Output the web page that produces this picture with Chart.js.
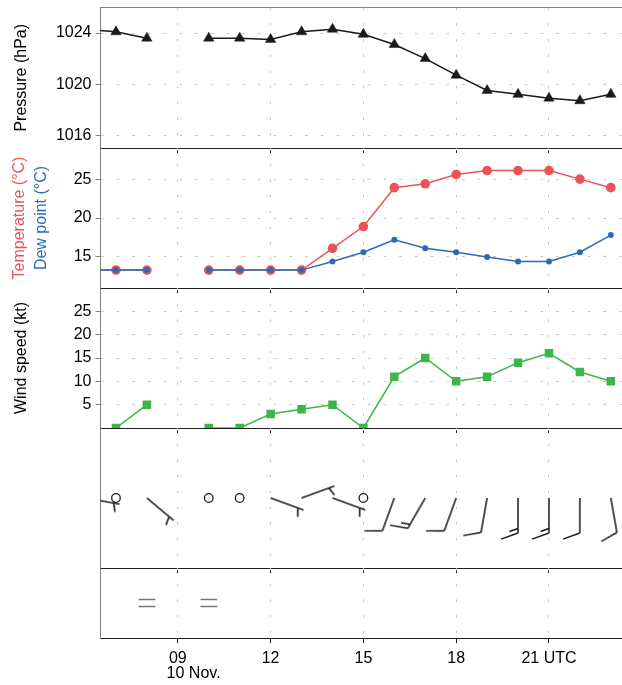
<!DOCTYPE html>
<html><head><meta charset="utf-8">
<script src="https://cdn.jsdelivr.net/npm/chart.js@4.4.1/dist/chart.umd.min.js"></script>
<style>
html,body{margin:0;padding:0;background:#fff;overflow:hidden;width:622px;height:685px;}
#wrap{position:relative;width:622px;height:685px;overflow:hidden;background:#fff;}
canvas{position:absolute;left:0;}
</style></head><body>
<div id="wrap">
<canvas id="cP" width="627" height="154" style="top:0px"></canvas>
<canvas id="cT" width="627" height="154" style="top:140px"></canvas>
<canvas id="cW" width="627" height="154" style="top:280px"></canvas>
<canvas id="cB" width="627" height="154" style="top:420px"></canvas>
<canvas id="cS" width="627" height="125" style="top:560px"></canvas>
</div>
<script>
// ---------------- data ----------------
const hours = [6,7,8,9,10,11,12,13,14,15,16,17,18,19,20,21,22,23];
const pressureHpa = [1024.3,1024.1,1023.6,null,1023.6,1023.6,1023.5,1024.1,1024.3,1023.9,1023.1,1022.0,1020.7,1019.5,1019.2,1018.9,1018.7,1019.2];
const temperatureC = [13.3,13.3,13.3,null,13.3,13.3,13.3,13.3,16.1,18.9,23.9,24.4,25.6,26.1,26.1,26.1,25.0,23.9];
const dewPointC = [13.3,13.3,13.3,null,13.3,13.3,13.3,13.3,14.4,15.6,17.2,16.1,15.6,15.0,14.4,14.4,15.6,17.8];
const windSpeedKt = [null,0,5,null,0,0,3,4,5,0,11,15,10,11,14,16,12,10];
const barbSpeedKt = [5,0,5,null,0,0,5,5,5,0,10,15,10,10,15,15,10,10];
const windDirDeg = [100,null,130,null,null,null,110,70,110,null,200,210,200,190,180,180,180,170];
const weatherSymbol = [null,null,'=',null,'=',null,null,null,null,null,null,null,null,null,null,null,null,null];
const xTickHours = [9,12,15,18,21];
const xTickLabels = ['09','12','15','18','21 UTC'];
const dateTickHour = 9;
const dateLabel = '10 Nov.';
const pressureTicks = [1016,1020,1024];
const tempTicks = [15,20,25];
const windTicks = [5,10,15,20,25];

// ---------------- style ----------------
const FONT = "'Liberation Sans', Arial, Helvetica, sans-serif";
const GRID_COLOR = '#c4c4c4';
const GRID_DASH = [2.5, 13.2];
const AXIS_COLOR = '#808080';
const SEP_COLOR = '#1f1f1f';
const TEMP_COLOR = '#EA5459';
const DEW_COLOR = '#2B6BB6';
const WIND_COLOR = '#3CB54A';
const INK = '#1a1a1a';
const X_MIN = 6.5, X_MAX = 23.5;
const Y_AXIS_W = 100.5;
const RIGHT_PAD = 0.7;

function noPad(s) { s.paddingTop = 0; s.paddingBottom = 0; s.paddingLeft = 0; s.paddingRight = 0; }

function xScale(o) {
  o = o || {};
  return {
    type: 'linear', position: 'bottom', min: X_MIN, max: X_MAX,
    afterBuildTicks: s => { s.ticks = xTickHours.map(v => ({ value: v })); },
    afterFit: s => { s.height = o.height || 6; noPad(s); },
    grid: { display: true, drawOnChartArea: true, drawTicks: true, tickLength: 5,
            color: GRID_COLOR, lineWidth: 1, tickColor: SEP_COLOR, tickWidth: 1 },
    border: { display: true, color: SEP_COLOR, width: 1, dash: GRID_DASH },
    ticks: { display: !!o.labels, autoSkip: false, maxRotation: 0, minRotation: 0,
             padding: 5.7, color: '#000', font: { family: FONT, size: 16, lineHeight: 1.2 },
             callback: (v, i) => xTickLabels[i] }
  };
}
function yScale(o) {
  const hasTicks = !!o.ticks;
  return {
    type: 'linear', position: 'left', min: o.min, max: o.max, weight: o.weight || 0,
    afterBuildTicks: s => { s.ticks = (o.ticks || []).map(v => ({ value: v })); },
    afterFit: s => { s.width = o.width; noPad(s); },
    grid: { display: hasTicks, drawOnChartArea: true, drawTicks: true, tickLength: 5,
            color: GRID_COLOR, lineWidth: 1, tickColor: AXIS_COLOR, tickWidth: 1 },
    border: { display: o.border !== false, color: AXIS_COLOR, width: 1, dash: GRID_DASH },
    ticks: { display: hasTicks, padding: 4, color: '#000', font: { family: FONT, size: 16 },
             callback: v => String(v) },
    title: o.title ? { display: true, text: o.title, color: o.titleColor || '#000',
             font: { family: FONT, size: 16, lineHeight: 1.2 },
             padding: { top: o.titlePad, bottom: 0 } } : { display: false }
  };
}
function baseOptions(scales, padTop) {
  return {
    responsive: false, animation: false, devicePixelRatio: 1, events: [],
    layout: { autoPadding: false, padding: { top: padTop, right: RIGHT_PAD, bottom: 0, left: 0 } },
    plugins: { legend: { display: false }, tooltip: { enabled: false } },
    scales
  };
}
const pts = arr => hours.map((h, i) => ({ x: h, y: arr[i] }));

// ---------------- symbol images (pointStyles) ----------------
const BARB_LEN = 35, FULL_LEN = 18, HALF_LEN = 9, FEATHER_GAP = 4.5, FEATHER_ANGLE = 70, LONE_HALF_OFFSET = 6;
const barbCache = {};
function barbImage(speed) {
  if (barbCache[speed]) return barbCache[speed];
  const size = 2 * (BARB_LEN + FULL_LEN) + 4;
  const c = document.createElement('canvas');
  c.width = c.height = size;
  const g = c.getContext('2d');
  const cx = size / 2, cy = size / 2;
  g.strokeStyle = INK; g.lineWidth = 1.5; g.lineCap = 'butt';
  g.beginPath();
  g.moveTo(cx, cy); g.lineTo(cx, cy - BARB_LEN);
  const a = FEATHER_ANGLE * Math.PI / 180;
  const fx = Math.sin(a), fy = -Math.cos(a);
  const full = Math.floor(speed / 10);
  const half = (speed % 10) >= 5 ? 1 : 0;
  let pos = (full === 0 && half) ? LONE_HALF_OFFSET : 0;
  for (let i = 0; i < full; i++) {
    const y = cy - BARB_LEN + pos;
    g.moveTo(cx, y); g.lineTo(cx + fx * FULL_LEN, y + fy * FULL_LEN);
    pos += FEATHER_GAP;
  }
  if (half) {
    const y = cy - BARB_LEN + pos;
    g.moveTo(cx, y); g.lineTo(cx + fx * HALF_LEN, y + fy * HALF_LEN);
  }
  g.stroke();
  barbCache[speed] = c;
  return c;
}
function mistImage() {
  const c = document.createElement('canvas');
  c.width = 18; c.height = 10;
  const g = c.getContext('2d');
  g.strokeStyle = '#777'; g.lineWidth = 1.4;
  g.beginPath();
  g.moveTo(0.6, 1.5); g.lineTo(17.4, 1.5);
  g.moveTo(0.6, 8.5); g.lineTo(17.4, 8.5);
  g.stroke();
  return c;
}
const MIST = mistImage();

// ---------------- charts ----------------
new Chart(document.getElementById('cP'), {
  type: 'line',
  data: { datasets: [{
    label: 'Pressure (hPa)', data: pts(pressureHpa),
    borderColor: INK, borderWidth: 1.5,
    pointStyle: 'triangle', pointRadius: 6, pointBackgroundColor: INK,
    pointBorderColor: INK, pointBorderWidth: 0.5
  }] },
  options: baseOptions({
    x: xScale(),
    xTop: { type: 'linear', position: 'top', min: X_MIN, max: X_MAX,
            afterFit: s => { s.height = 0; noPad(s); },
            grid: { display: false, drawTicks: false }, ticks: { display: false },
            border: { display: true, color: AXIS_COLOR, width: 1 } },
    y: yScale({ min: 1015, max: 1026, ticks: pressureTicks, width: Y_AXIS_W,
                title: 'Pressure (hPa)', titlePad: 12.1 })
  }, 7.5)
});

new Chart(document.getElementById('cT'), {
  type: 'line',
  data: { datasets: [
    { label: 'Dew point (°C)', data: pts(dewPointC), order: 0,
      borderColor: DEW_COLOR, borderWidth: 1.5, pointRadius: 3,
      pointBackgroundColor: DEW_COLOR, pointBorderColor: DEW_COLOR, pointBorderWidth: 0 },
    { label: 'Temperature (°C)', data: pts(temperatureC), order: 1,
      borderColor: TEMP_COLOR, borderWidth: 1.5, pointRadius: 4.8,
      pointBackgroundColor: TEMP_COLOR, pointBorderColor: TEMP_COLOR, pointBorderWidth: 0 }
  ] },
  options: baseOptions({
    x: xScale(),
    yT: yScale({ min: 11, max: 29, ticks: null, width: 31, weight: 10, border: false,
                 title: 'Temperature (°C)', titleColor: TEMP_COLOR, titlePad: 10.4 }),
    y: yScale({ min: 11, max: 29, ticks: tempTicks, width: Y_AXIS_W - 31,
                title: 'Dew point (°C)', titleColor: DEW_COLOR, titlePad: 1.1 })
  }, 8)
});

new Chart(document.getElementById('cW'), {
  type: 'line',
  data: { datasets: [{
    label: 'Wind speed (kt)', data: pts(windSpeedKt),
    borderColor: WIND_COLOR, borderWidth: 1.5,
    pointStyle: 'rect', pointRadius: 6, pointBackgroundColor: WIND_COLOR,
    pointBorderColor: WIND_COLOR, pointBorderWidth: 0
  }] },
  options: baseOptions({
    x: xScale(),
    y: yScale({ min: 0, max: 30, ticks: windTicks, width: Y_AXIS_W,
                title: 'Wind speed (kt)', titlePad: 12.1 })
  }, 8)
});

const barbData = hours.map((h, i) => barbSpeedKt[i] === null ? null :
  { x: h, y: 0, spd: barbSpeedKt[i], dir: windDirDeg[i] }).filter(Boolean);
new Chart(document.getElementById('cB'), {
  type: 'scatter',
  data: { datasets: [{
    label: 'Wind barbs', data: barbData, showLine: false,
    pointStyle: c => c.raw.spd === 0 ? 'circle' : barbImage(c.raw.spd),
    rotation: c => c.raw.dir || 0,
    pointRadius: c => c.raw.spd === 0 ? 4.3 : 45,
    pointBackgroundColor: 'rgba(0,0,0,0)', pointBorderColor: INK, pointBorderWidth: 1.3
  }] },
  options: baseOptions({
    x: xScale(),
    y: yScale({ min: -1, max: 1, ticks: null, width: Y_AXIS_W })
  }, 8)
});

const wxData = hours.map((h, i) => weatherSymbol[i] === null ? null : { x: h, y: 0, sym: weatherSymbol[i] }).filter(Boolean);
new Chart(document.getElementById('cS'), {
  type: 'scatter',
  data: { datasets: [{
    label: 'Weather', data: wxData, showLine: false,
    pointStyle: MIST, pointRadius: 9
  }] },
  options: baseOptions({
    x: xScale({ labels: true, height: 26 }),
    xDate: { type: 'linear', position: 'bottom', weight: 10, min: X_MIN, max: X_MAX,
             afterBuildTicks: s => { s.ticks = [{ value: dateTickHour }]; },
             afterFit: s => { s.height = 21; noPad(s); },
             grid: { display: false, drawTicks: false }, border: { display: false },
             ticks: { display: true, align: 'start', labelOffset: -11.2, padding: 0.2,
                      autoSkip: false, maxRotation: 0, color: '#000',
                      font: { family: FONT, size: 16, lineHeight: 1.2 },
                      callback: () => dateLabel } },
    y: yScale({ min: -1, max: 1, ticks: null, width: Y_AXIS_W })
  }, 8)
});
</script>
</body></html>
